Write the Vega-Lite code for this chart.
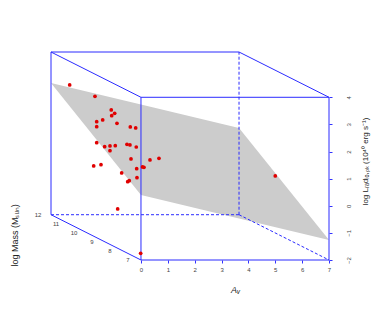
{
  "$schema": "https://vega.github.io/schema/vega-lite/v6.json",
  "width": 278,
  "height": 208,
  "autosize": {"type": "none"},
  "padding": {"left": 51, "top": 52, "right": 45, "bottom": 64},
  "background": "white",
  "config": {"view": {"stroke": null}, "font": "Liberation Sans"},
  "datasets": {
    "plane": [
      {"x": -3.35, "y": 4.53, "y2": 4.53},
      {"x": 0, "y": 3.735, "y2": 0.398},
      {"x": 3.65, "y": 2.868, "y2": -0.469},
      {"x": 7, "y": -1.262, "y2": -1.262}
    ],
    "edges_visible": [
      {"x": 0, "y": -2, "x2": 7, "y2": -2},
      {"x": 0, "y": 4, "x2": 7, "y2": 4},
      {"x": 0, "y": -2, "x2": 0, "y2": 4},
      {"x": 7, "y": -2, "x2": 7, "y2": 4},
      {"x": -3.35, "y": 5.67, "x2": 3.65, "y2": 5.67},
      {"x": -3.35, "y": -0.33, "x2": -3.35, "y2": 5.67},
      {"x": -3.35, "y": 5.67, "x2": 0, "y2": 4},
      {"x": 3.65, "y": 5.67, "x2": 7, "y2": 4},
      {"x": -3.35, "y": -0.33, "x2": 0, "y2": -2}
    ],
    "edges_hidden": [
      {"x": -3.35, "y": -0.33, "x2": 3.65, "y2": -0.33},
      {"x": 3.65, "y": -0.33, "x2": 3.65, "y2": 5.67},
      {"x": 3.65, "y": -0.33, "x2": 7, "y2": -2}
    ],
    "mass_ticks": [
      {"mass": 12, "label": "12"},
      {"mass": 11, "label": "11"},
      {"mass": 10, "label": "10"},
      {"mass": 9, "label": "9"},
      {"mass": 8, "label": "8"},
      {"mass": 7, "label": "7"}
    ],
    "mass_title": [
      {"mass": 9.5, "label": "log Mass (Mₛᵤₙ)"}
    ],
    "points": [
      {"x": -2.655, "y": 4.454},
      {"x": -1.713, "y": 4.037},
      {"x": -1.106, "y": 3.532},
      {"x": -0.979, "y": 3.41},
      {"x": -1.091, "y": 3.322},
      {"x": -1.426, "y": 3.163},
      {"x": -1.649, "y": 3.1},
      {"x": -1.649, "y": 2.916},
      {"x": -0.894, "y": 3.041},
      {"x": -0.398, "y": 2.905},
      {"x": -0.197, "y": 2.868},
      {"x": -1.649, "y": 2.326},
      {"x": -1.352, "y": 2.178},
      {"x": -1.154, "y": 2.204},
      {"x": -0.957, "y": 2.215},
      {"x": -1.154, "y": 2.031},
      {"x": -0.521, "y": 2.267},
      {"x": -0.41, "y": 2.241},
      {"x": -0.175, "y": 2.167},
      {"x": -0.372, "y": 1.725},
      {"x": 0.335, "y": 1.688},
      {"x": 0.67, "y": 1.751},
      {"x": -1.761, "y": 1.467},
      {"x": -1.489, "y": 1.515},
      {"x": -0.16, "y": 1.367},
      {"x": 0.056, "y": 1.43},
      {"x": 0.112, "y": 1.419},
      {"x": -0.719, "y": 1.209},
      {"x": -0.149, "y": 1.035},
      {"x": -0.495, "y": 0.888},
      {"x": -0.436, "y": 0.925},
      {"x": -0.868, "y": -0.119},
      {"x": -0.011, "y": -1.752},
      {"x": 5.0, "y": 1.098}
    ]
  },
  "encoding": {
    "x": {
      "field": "x",
      "type": "quantitative",
      "scale": {"domain": [-3.35, 7], "nice": false, "zero": false},
      "axis": {
        "values": [0, 1, 2, 3, 4, 5, 6, 7],
        "domain": false,
        "grid": false,
        "tickColor": "#3333ff",
        "tickSize": 3,
        "labelFontSize": 6,
        "labelColor": "#444444",
        "labelPadding": 3,
        "labelFlush": false,
        "labelOverlap": false,
        "title": "Aᵥ",
        "titleFontSize": 9,
        "titleFontStyle": "italic",
        "titleFontWeight": "normal",
        "titleColor": "#222222",
        "titleX": 184,
        "titleY": 29,
        "titleAlign": "center",
        "titleBaseline": "middle"
      }
    },
    "y": {
      "field": "y",
      "type": "quantitative",
      "scale": {"domain": [-2, 5.67], "nice": false, "zero": false},
      "axis": {
        "orient": "right",
        "values": [-2, -1, 0, 1, 2, 3, 4],
        "domain": false,
        "grid": false,
        "tickColor": "#3333ff",
        "tickSize": 3,
        "labelAngle": 270,
        "labelAlign": "center",
        "labelBaseline": "top",
        "labelPadding": 13,
        "labelFontSize": 6,
        "labelColor": "#444444",
        "labelFlush": false,
        "labelOverlap": false,
        "title": "log Lᵣₐdᵢₒ,ₚₖ (10⁴⁰ erg s⁻¹)",
        "titleAngle": 270,
        "titleFontSize": 8,
        "titleFontWeight": "normal",
        "titleColor": "#222222",
        "titleX": 36,
        "titleY": 109,
        "titleAlign": "center",
        "titleBaseline": "middle"
      }
    }
  },
  "layer": [
    {
      "data": {"name": "plane"},
      "mark": {"type": "area", "color": "#cccccc", "opacity": 1},
      "encoding": {"y2": {"field": "y2"}}
    },
    {
      "data": {"name": "edges_hidden"},
      "mark": {"type": "rule", "color": "#2b2bff", "strokeWidth": 1, "strokeDash": [3, 2]},
      "encoding": {"x2": {"field": "x2"}, "y2": {"field": "y2"}}
    },
    {
      "data": {"name": "edges_visible"},
      "mark": {"type": "rule", "color": "#2b2bff", "strokeWidth": 1},
      "encoding": {"x2": {"field": "x2"}, "y2": {"field": "y2"}}
    },
    {
      "data": {"name": "mass_ticks"},
      "transform": [
        {"calculate": "-0.67 * (datum.mass - 7)", "as": "x"},
        {"calculate": "-2 + 0.334 * (datum.mass - 7)", "as": "y"}
      ],
      "mark": {"type": "text", "fontSize": 6, "color": "#444444", "dx": -13, "align": "center", "baseline": "middle"},
      "encoding": {"text": {"field": "label"}}
    },
    {
      "data": {"name": "mass_title"},
      "transform": [
        {"calculate": "-0.67 * (datum.mass - 7)", "as": "x"},
        {"calculate": "-2 + 0.334 * (datum.mass - 7)", "as": "y"}
      ],
      "mark": {"type": "text", "fontSize": 9, "color": "#222222", "angle": 270, "align": "center", "baseline": "middle", "dx": 2, "dy": -81, "clip": false},
      "encoding": {"text": {"field": "label"}}
    },
    {
      "data": {"name": "points"},
      "mark": {"type": "circle", "color": "#e00000", "size": 14, "opacity": 1},
      "encoding": {}
    }
  ]
}
